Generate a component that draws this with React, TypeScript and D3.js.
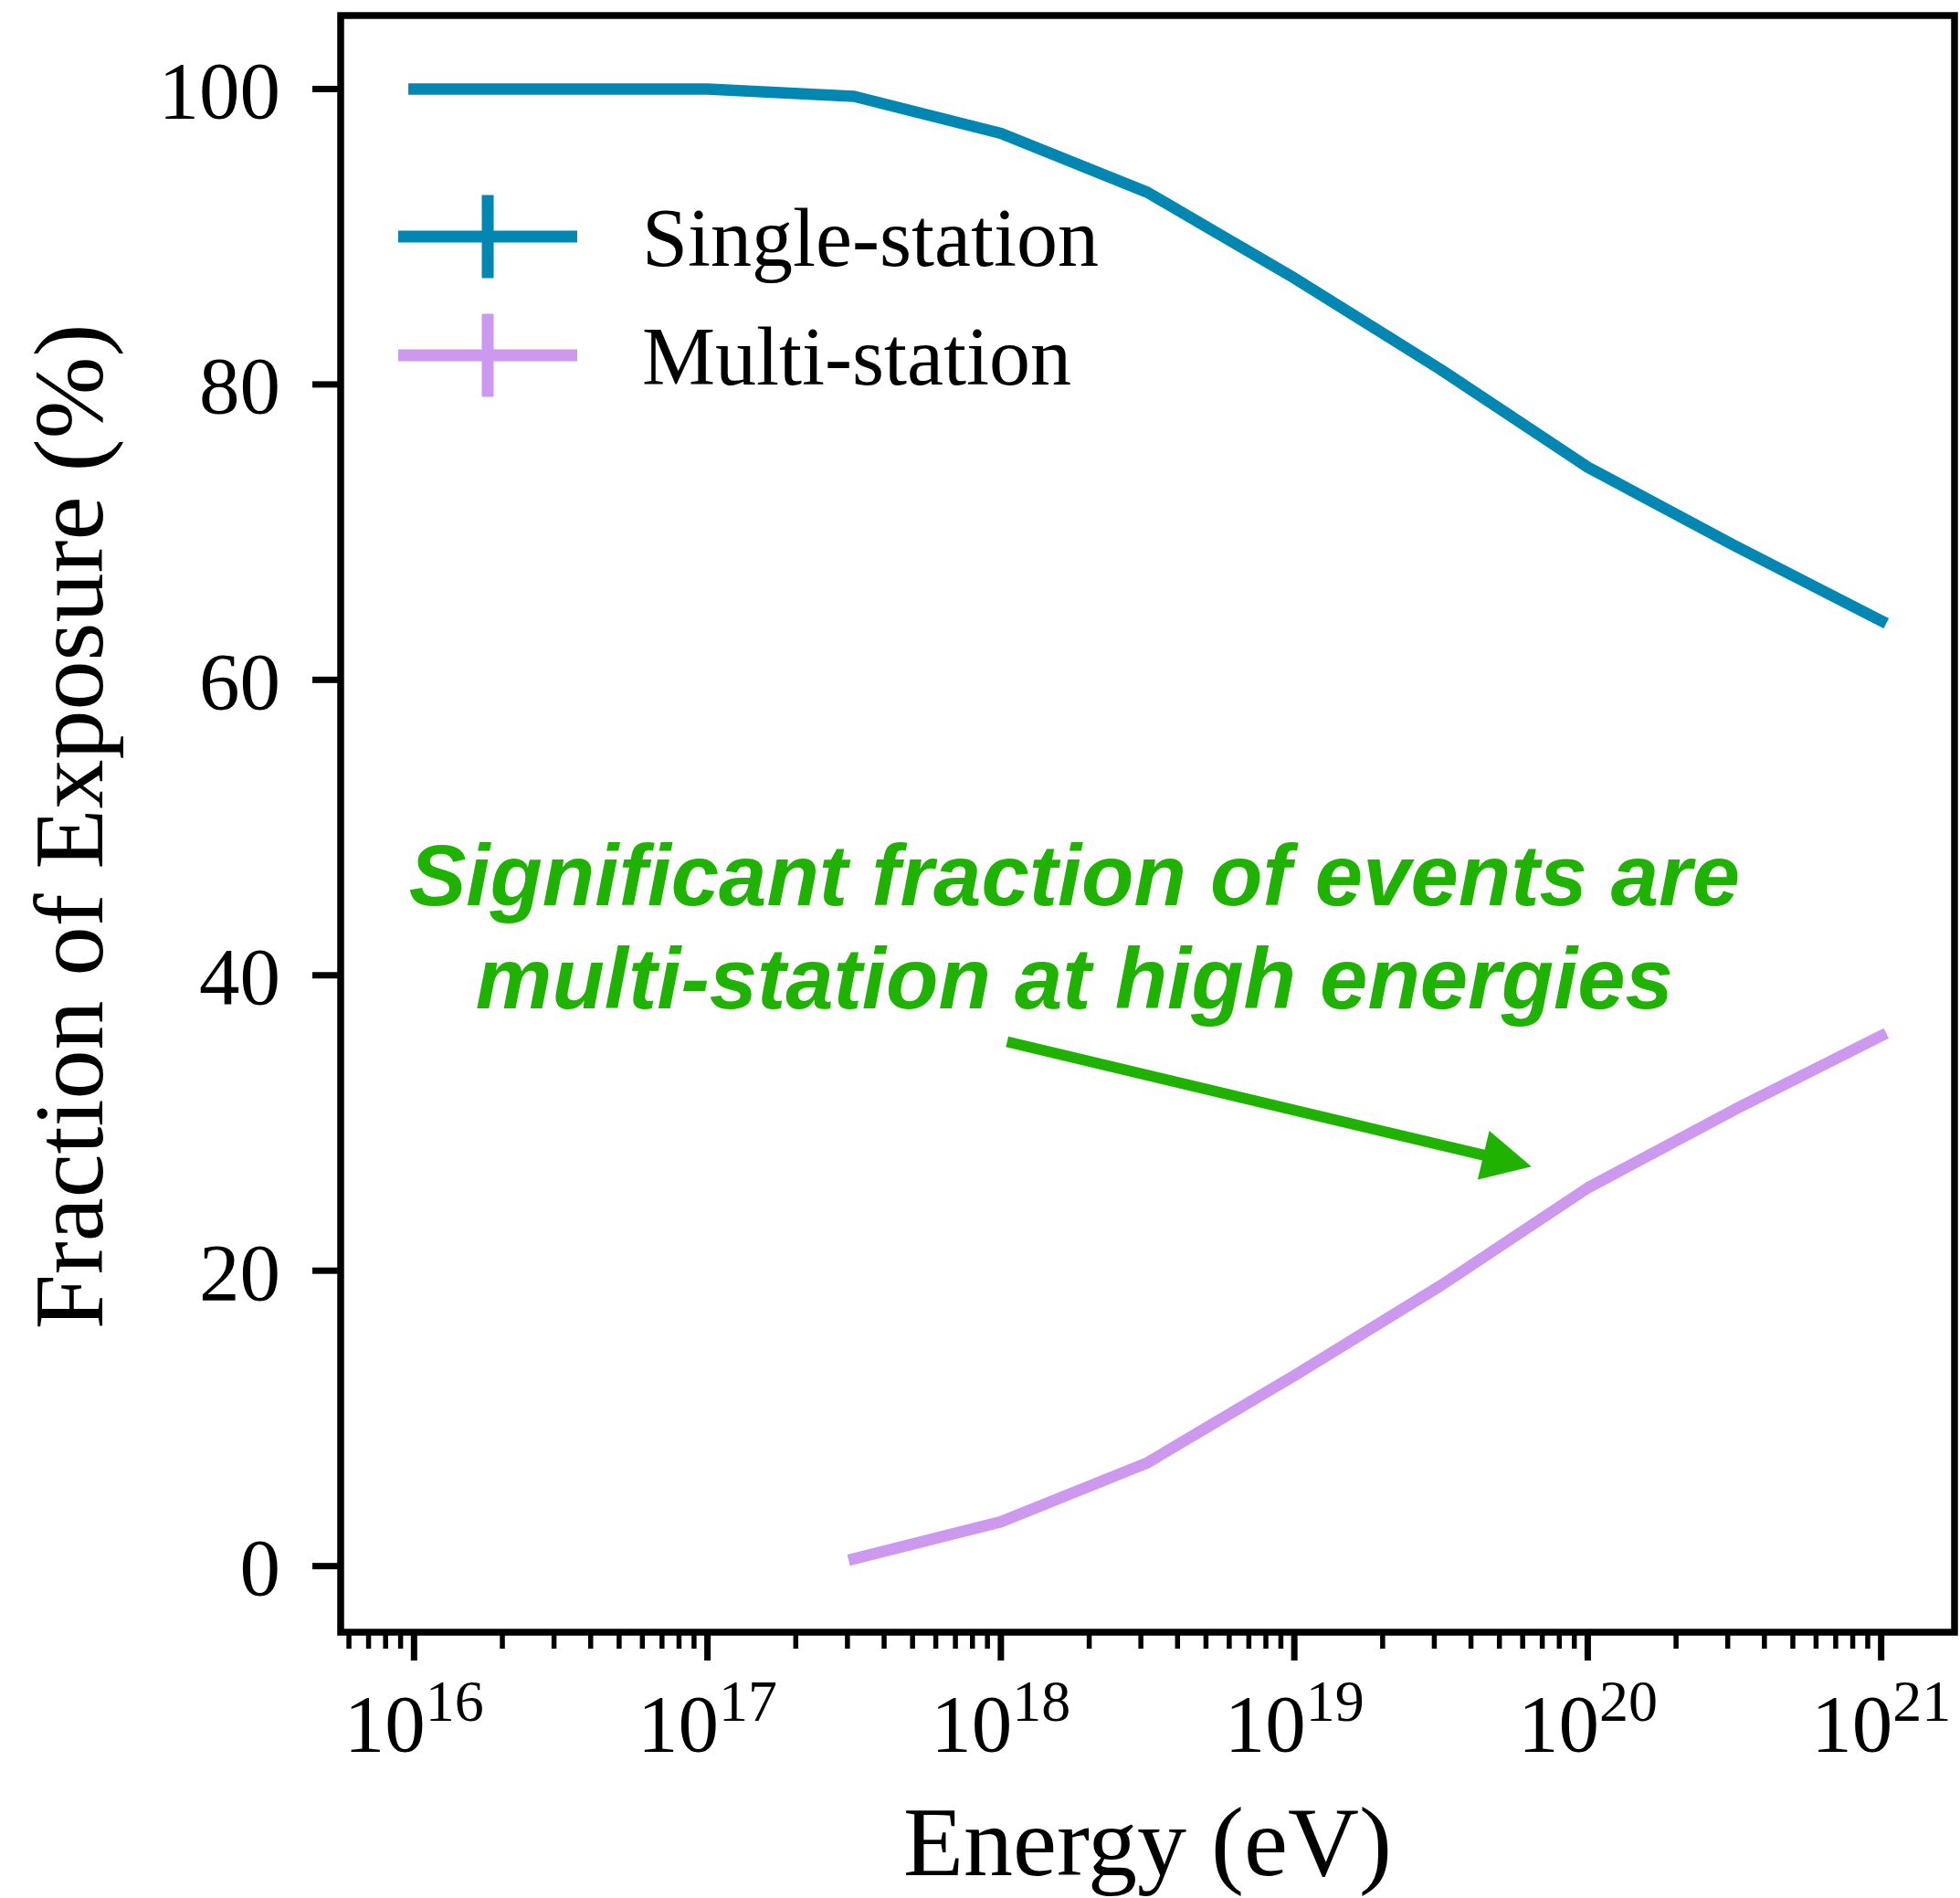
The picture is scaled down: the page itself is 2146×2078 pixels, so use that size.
import React from "react";
import * as d3 from "d3";

// Energies (eV) sampled at half-decade steps
const energies = [1e16, 3.16e16, 1e17, 3.16e17, 1e18, 3.16e18, 1e19, 3.16e19, 1e20, 3.16e20, 1e21];
// Fraction of exposure (%) for single-station events
const singleStation = [100, 100, 100, 99.5, 97, 93, 87.2, 81, 74.4, 69.1, 64];
// Multi-station curve starts at 3.16e17 eV
const multiEnergies = [3.16e17, 1e18, 3.16e18, 1e19, 3.16e19, 1e20, 3.16e20, 1e21];
const multiStation = [0.5, 3, 7, 12.9, 19, 25.6, 30.9, 35.9];

const yTickValues = [0, 20, 40, 60, 80, 100];
const seriesNames = ["Single-station", "Multi-station"];
const seriesColors = ["#0287B3", "#CC99EE"];

const annotationLines = ["Significant fraction of events are", "multi-station at high energies"];
// annotation anchors in data coordinates
const annotationText = { energy: 1.78e18, value: 44.75 };
const arrowTail = { energy: 1.05e18, value: 35.5 };
const arrowHead = { energy: 6.43e19, value: 27.05 };

const W = 2146;
const H = 2078;
const M = { left: 373, right: 2140, top: 17, bottom: 1787 };

const SERIF = "'Liberation Serif', 'Times New Roman', serif";
const SANS = "'Liberation Sans', Arial, Helvetica, sans-serif";
const GREEN = "#20B200";

export default function App() {
  const logMin = Math.log10(d3.min(energies)!);
  const logMax = Math.log10(d3.max(energies)!);
  const xPad = (logMax - logMin) * 0.05;
  const x = d3
    .scaleLog()
    .domain([Math.pow(10, logMin - xPad), Math.pow(10, logMax + xPad)])
    .range([M.left, M.right]);

  const allVals = [...singleStation, ...multiStation];
  const [vMin, vMax] = d3.extent(allVals) as [number, number];
  const yPad = (vMax - vMin) * 0.05;
  const y = d3.scaleLinear().domain([vMin - yPad, vMax + yPad]).range([M.bottom, M.top]);

  const line = d3
    .line<[number, number]>()
    .x((d) => x(d[0]))
    .y((d) => y(d[1]));

  const singlePath = line(energies.map((e, i) => [e, singleStation[i]]))!;
  const multiPath = line(multiEnergies.map((e, i) => [e, multiStation[i]]))!;

  const allTicks = x.ticks().filter((t) => {
    const px = x(t);
    return px >= M.left - 0.5 && px <= M.right + 0.5;
  });
  const isMajor = (t: number) => Math.abs(Math.log10(t) - Math.round(Math.log10(t))) < 1e-9;
  const majorTicks = allTicks.filter(isMajor);
  const minorTicks = allTicks.filter((t) => !isMajor(t));

  // arrow geometry
  const tx = x(arrowTail.energy);
  const ty = y(arrowTail.value);
  const hx = x(arrowHead.energy);
  const hy = y(arrowHead.value);
  const len = Math.hypot(hx - tx, hy - ty);
  const ux = (hx - tx) / len;
  const uy = (hy - ty) / len;
  const nx = -uy;
  const ny = ux;
  const headLen = 54;
  const headHalf = 27.5;
  const shaftHalf = 6;
  const bx = hx - ux * headLen;
  const by = hy - uy * headLen;
  const arrowPts = [
    [tx + nx * shaftHalf, ty + ny * shaftHalf],
    [bx + nx * shaftHalf, by + ny * shaftHalf],
    [bx + nx * headHalf, by + ny * headHalf],
    [hx, hy],
    [bx - nx * headHalf, by - ny * headHalf],
    [bx - nx * shaftHalf, by - ny * shaftHalf],
    [tx - nx * shaftHalf, ty - ny * shaftHalf],
  ]
    .map((p) => p.join(","))
    .join(" ");

  const tickFont = 89;
  const legendRows = [M.top + 242, M.top + 372];
  const legendX0 = M.left + 63;
  const legendX1 = M.left + 259;
  const legendMid = (legendX0 + legendX1) / 2 + 0;

  const annX = x(annotationText.energy);
  const annY = y(annotationText.value);

  return (
    <svg
      width={W}
      height={H}
      viewBox={`0 0 ${W} ${H}`}
      style={{ position: "absolute", left: 0, top: 0, background: "#fff" }}
    >
      <rect x={0} y={0} width={W} height={H} fill="#fff" />

      {/* data lines */}
      <path d={singlePath} fill="none" stroke={seriesColors[0]} strokeWidth={12.5} strokeLinecap="square" strokeLinejoin="round" />
      <path d={multiPath} fill="none" stroke={seriesColors[1]} strokeWidth={12.5} strokeLinecap="square" strokeLinejoin="round" />

      {/* annotation */}
      <g fill={GREEN} fontFamily={SANS} fontWeight="bold" fontStyle="italic" fontSize={94} textAnchor="middle">
        {annotationLines.map((t, i) => (
          <text key={t} x={annX} y={annY + i * 113}>
            {t}
          </text>
        ))}
      </g>
      <polygon points={arrowPts} fill={GREEN} />

      {/* legend */}
      {seriesNames.map((name, i) => (
        <g key={name}>
          <line x1={legendX0} x2={legendX1} y1={legendRows[i]} y2={legendRows[i]} stroke={seriesColors[i]} strokeWidth={13} />
          <line x1={legendMid} x2={legendMid} y1={legendRows[i] - 45.5} y2={legendRows[i] + 45.5} stroke={seriesColors[i]} strokeWidth={13} />
          <text x={M.left + 330} y={legendRows[i] + 32} fontFamily={SERIF} fontSize={90} fill="#000">
            {name}
          </text>
        </g>
      ))}

      {/* y ticks */}
      {yTickValues.map((v) => (
        <g key={v}>
          <line x1={M.left - 31} x2={M.left} y1={y(v)} y2={y(v)} stroke="#000" strokeWidth={7} />
          <text x={307} y={y(v) + 31.5} textAnchor="end" fontFamily={SERIF} fontSize={tickFont} fill="#000">
            {v}
          </text>
        </g>
      ))}

      {/* x ticks */}
      {minorTicks.map((t) => (
        <line key={"m" + t} x1={x(t)} x2={x(t)} y1={M.bottom} y2={M.bottom + 18} stroke="#000" strokeWidth={5.5} />
      ))}
      {majorTicks.map((t) => (
        <g key={"M" + t}>
          <line x1={x(t)} x2={x(t)} y1={M.bottom} y2={M.bottom + 31} stroke="#000" strokeWidth={7} />
          <text x={x(t)} y={1917} textAnchor="middle" fontFamily={SERIF} fontSize={tickFont} fill="#000">
            10
            <tspan dy={-33} fontSize={64}>
              {Math.round(Math.log10(t))}
            </tspan>
          </text>
        </g>
      ))}

      {/* frame */}
      <rect
        x={M.left}
        y={M.top}
        width={M.right - M.left}
        height={M.bottom - M.top}
        fill="none"
        stroke="#000"
        strokeWidth={7.5}
        strokeLinejoin="miter"
      />

      {/* axis labels */}
      <text x={(M.left + M.right) / 2} y={2053} textAnchor="middle" fontFamily={SERIF} fontSize={108} fill="#000">
        Energy (eV)
      </text>
      <text
        transform={`translate(112, ${(M.top + M.bottom) / 2 + 3}) rotate(-90)`}
        textAnchor="middle"
        fontFamily={SERIF}
        fontSize={108}
        fill="#000"
      >
        Fraction of Exposure (%)
      </text>
    </svg>
  );
}
